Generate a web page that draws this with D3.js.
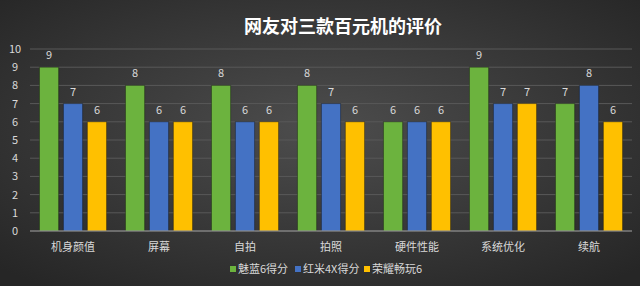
<!DOCTYPE html>
<meta charset="utf-8">
<head>
    <title>网友对三款百元机的评价</title>
    <script src="https://cdn.jsdelivr.net/npm/d3@7"></script>
</head>

<style>
    body { margin: 0; background: #333; }
    text { font-family: "Noto Sans CJK SC", "Noto Sans", sans-serif; }
</style>

<svg></svg>

<script>
    // chart data
    var categories = ["机身颜值", "屏幕", "自拍", "拍照", "硬件性能", "系统优化", "续航"];
    var seriesNames = ["魅蓝6得分", "红米4X得分", "荣耀畅玩6"];
    var meilan = [9, 8, 8, 8, 6, 9, 7];
    var hongmi = [7, 6, 6, 7, 6, 7, 8];
    var rongyao = [6, 6, 6, 6, 6, 7, 6];
    var yTicks = [0, 1, 2, 3, 4, 5, 6, 7, 8, 9, 10];
    var colors = ["#6cb33e", "#4472c4", "#ffc000"];

    var W = 640, H = 286;
    var series = [meilan, hongmi, rongyao];

    var svg = d3.select('svg')
        .attr('width', W)
        .attr('height', H);

    // dark background, lighter in the middle
    var defs = svg.append('defs');
    var grad = defs.append('radialGradient').attr('id', 'bg')
        .attr('cx', '50%').attr('cy', '45%').attr('r', '70%');
    grad.append('stop').attr('offset', '0%').attr('stop-color', '#4d4d4d');
    grad.append('stop').attr('offset', '100%').attr('stop-color', '#262626');
    svg.append('rect').attr('width', W).attr('height', H).attr('fill', 'url(#bg)');

    svg.append('text')
        .attr('x', 343).attr('y', 33)
        .attr('text-anchor', 'middle')
        .attr('fill', '#ffffff')
        .attr('font-size', 18)
        .attr('font-weight', 'bold')
        .text('网友对三款百元机的评价');

    var x0 = d3.scaleBand().domain(categories).range([30, 632]).paddingInner(0.22).paddingOuter(0.11);
    var x1 = d3.scaleBand().domain([0, 1, 2]).range([0, x0.bandwidth()]).paddingInner(0.2).paddingOuter(0);
    var y = d3.scaleLinear().domain([0, 10]).range([231, 49]);

    // gridlines
    svg.append('g').selectAll('line').data(yTicks.slice(1)).enter()
        .append('line')
        .attr('x1', 30).attr('x2', 632)
        .attr('y1', function (d) { return y(d); })
        .attr('y2', function (d) { return y(d); })
        .attr('stroke', '#595959')
        .attr('stroke-width', 1);

    // y labels
    svg.append('g').selectAll('text').data(yTicks).enter()
        .append('text')
        .attr('x', 15).attr('y', function (d) { return y(d) + 4; })
        .attr('text-anchor', 'middle')
        .attr('fill', '#d9d9d9')
        .attr('font-size', 11)
        .text(function (d) { return d; });

    // bars
    var groups = svg.append('g').selectAll('g').data(categories).enter()
        .append('g')
        .attr('transform', function (d) { return 'translate(' + x0(d) + ',0)'; });

    groups.selectAll('rect')
        .data(function (d, i) { return series.map(function (s, k) { return {k: k, v: s[i]}; }); })
        .enter().append('rect')
        .attr('x', function (d) { return x1(d.k); })
        .attr('y', function (d) { return y(d.v); })
        .attr('width', x1.bandwidth())
        .attr('height', function (d) { return y(0) - y(d.v); })
        .attr('fill', function (d) { return colors[d.k]; })
        .attr('stroke', 'rgba(0,0,0,0.35)')
        .attr('stroke-width', 1);

    groups.selectAll('text.val')
        .data(function (d, i) { return series.map(function (s, k) { return {k: k, v: s[i]}; }); })
        .enter().append('text')
        .attr('class', 'val')
        .attr('x', function (d) { return x1(d.k) + x1.bandwidth() / 2; })
        .attr('y', function (d) { return y(d.v) - 8; })
        .attr('text-anchor', 'middle')
        .attr('fill', '#d9d9d9')
        .attr('font-size', 11)
        .text(function (d) { return d.v; });

    // x axis line
    svg.append('line')
        .attr('x1', 30).attr('x2', 632)
        .attr('y1', y(0)).attr('y2', y(0))
        .attr('stroke', '#a6a6a6');

    // category labels
    svg.append('g').selectAll('text').data(categories).enter()
        .append('text')
        .attr('x', function (d) { return x0(d) + x0.bandwidth() / 2; })
        .attr('y', 251)
        .attr('text-anchor', 'middle')
        .attr('fill', '#d9d9d9')
        .attr('font-size', 11)
        .text(function (d) { return d; });

    // legend
    var legX = [230, 295, 364];
    var leg = svg.append('g').selectAll('g').data(seriesNames).enter()
        .append('g')
        .attr('transform', function (d, i) { return 'translate(' + legX[i] + ',270)'; });
    leg.append('rect')
        .attr('x', 0).attr('y', -4).attr('width', 6).attr('height', 6)
        .attr('fill', function (d, i) { return colors[i]; });
    leg.append('text')
        .attr('x', 8).attr('y', 3)
        .attr('fill', '#d9d9d9')
        .attr('font-size', 11)
        .text(function (d) { return d; });
</script>
